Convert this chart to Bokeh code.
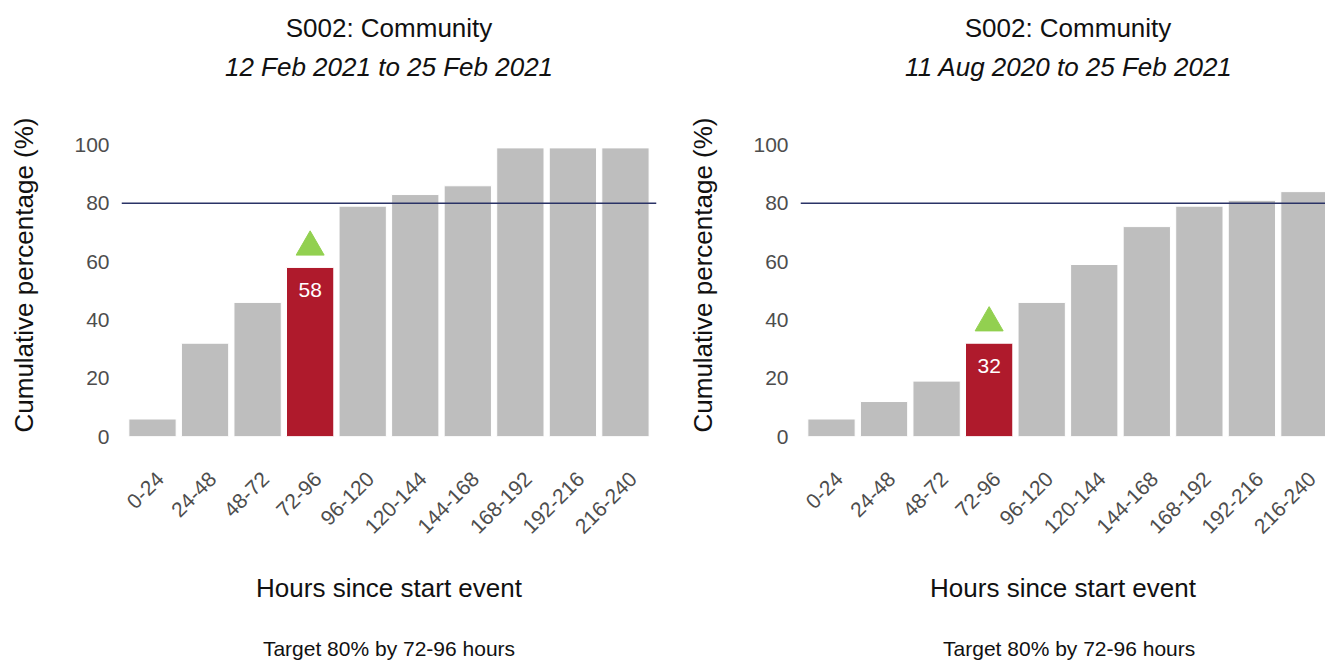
import math
from bokeh.plotting import figure
from bokeh.layouts import row
from bokeh.models import Range1d, FixedTicker, Span, Label, Title
from bokeh.embed import file_html
from bokeh.resources import INLINE

# ---------------- data ----------------
categories = ["0-24", "24-48", "48-72", "72-96", "96-120",
              "120-144", "144-168", "168-192", "192-216", "216-240"]
left_values = [6, 32, 46, 58, 79, 83, 86, 99, 99, 99]
right_values = [6, 12, 19, 32, 46, 59, 72, 79, 81, 84]
panel_title = "S002: Community"
left_subtitle = "12 Feb 2021 to 25 Feb 2021"
right_subtitle = "11 Aug 2020 to 25 Feb 2021"
y_ticks = [0, 20, 40, 60, 80, 100]
target = 80
highlight = "72-96"
x_title = "Hours since start event"
y_title = "Cumulative percentage (%)"
footer = "Target 80% by 72-96 hours"

# ---------------- style ----------------
FONT = "Liberation Sans"
GREY = "#BEBEBE"
RED = "#AF1A2C"
GREEN = "#92D050"
NAVY = "#2A3366"
TICK_COL = "#4D4D4D"
TXT = "#111111"

X_START = -0.09
UNIT_PX = 52.55
FULL_FRAME = 535
LABEL_SHIFT = 0.15   # rotated labels hang to the right of the bar centre

# Arial/Liberation advance widths (per 1000 em) used to centre texts of a
# panel whose frame is cut by the window edge
_W = {" ": 278, "(": 333, ")": 333, "%": 889, "-": 333, ":": 278}


def text_width(s, size, w=None):
    narrow = {"i": 222, "l": 222, "t": 278, "r": 333, "f": 278, "j": 222}
    total = 0
    for ch in s:
        if ch in _W:
            total += _W[ch]
        elif ch in narrow:
            total += narrow[ch]
        elif ch.isdigit():
            total += 556
        elif ch in "sckvyxz":
            total += 500
        elif ch == "m":
            total += 833
        elif ch in "ABEKPSVXY":
            total += 667
        elif ch in "CDHNRUw":
            total += 722
        elif ch in "FTZ":
            total += 611
        else:
            total += 556
    return total * size / 1000.0


def spacer(gap):
    # blank title used only to reserve vertical room
    return Title(text=" ", text_font_size="2px", standoff=gap)


def make_panel(values, subtitle, width, frame_w, border_right):
    x_end = X_START + frame_w / UNIT_PX
    p = figure(width=width, height=663, output_backend="svg", toolbar_location=None,
               x_range=Range1d(X_START, x_end), y_range=Range1d(0, 110.8),
               min_border_left=121, min_border_right=border_right,
               min_border_top=113, min_border_bottom=227)
    p.outline_line_color = None
    p.xgrid.grid_line_color = None
    p.ygrid.grid_line_color = None
    p.background_fill_color = "white"
    p.border_fill_color = "white"

    xs = [i + 0.5 for i in range(len(categories))]
    colors = [RED if c == highlight else GREY for c in categories]
    p.vbar(x=xs, top=values, width=0.9, bottom=0, fill_color=colors,
           line_color="white", line_width=1)

    p.add_layout(Span(location=target, dimension="width", line_color=NAVY,
                      line_width=1.4))

    hi = categories.index(highlight)
    hv = values[hi]
    p.scatter(x=[xs[hi]], y=[hv + 7], marker="triangle", size=28,
              fill_color=GREEN, line_color=GREEN)
    p.add_layout(Label(x=xs[hi], y=hv - 7.8, text=str(hv), text_color="white",
                       text_font=FONT, text_font_size="21px", text_align="center",
                       text_baseline="alphabetic"))

    cropped = frame_w < FULL_FRAME

    def place(title_obj, txt, size):
        if cropped:
            # centre over the full (uncut) panel width
            centre = FULL_FRAME / 2.0
            title_obj.align = "right"
            title_obj.offset = frame_w - (centre + text_width(txt, size) / 2.0)
        else:
            title_obj.align = "center"

    # titles (above: spacer next to frame, then subtitle, then main title)
    p.title.text = panel_title
    p.title.text_font = FONT
    p.title.text_font_size = "26px"
    p.title.text_font_style = "normal"
    p.title.text_color = TXT
    p.title.standoff = 7
    place(p.title, panel_title, 26)
    p.add_layout(spacer(25), "above")
    sub = Title(text=subtitle, text_font=FONT, text_font_size="26px",
                text_font_style="italic", text_color=TXT, standoff=6)
    place(sub, subtitle, 26)
    p.add_layout(sub, "above")

    # axes
    tick_pos = [x + LABEL_SHIFT for x in xs]
    p.xaxis.ticker = FixedTicker(ticks=tick_pos)
    p.xaxis.major_label_overrides = {t: c for t, c in zip(tick_pos, categories)}
    p.xaxis.major_label_orientation = math.pi / 4
    p.yaxis.ticker = FixedTicker(ticks=y_ticks)
    for ax in (p.xaxis, p.yaxis):
        ax.axis_line_color = None
        ax.major_tick_line_color = None
        ax.minor_tick_line_color = None
        ax.major_tick_in = 0
        ax.major_tick_out = 0
        ax.major_label_text_font = FONT
        ax.major_label_text_font_size = "21px"
        ax.major_label_text_color = TICK_COL
        ax.axis_label_text_font = FONT
        ax.axis_label_text_font_size = "26px"
        ax.axis_label_text_font_style = "normal"
        ax.axis_label_text_color = TXT
    p.yaxis.major_label_standoff = 12
    p.xaxis.major_label_standoff = 39
    p.xaxis.axis_label = x_title
    p.yaxis.axis_label = y_title
    p.xaxis.axis_label_standoff = 30
    p.yaxis.axis_label_standoff = 32

    # below: x axis, spacer, footer note
    p.add_layout(spacer(25), "below")
    foot = Title(text=footer, text_font=FONT, text_font_size="21px",
                 text_font_style="normal", text_color=TXT, standoff=0)
    place(foot, footer, 21)
    p.add_layout(foot, "below")
    return p


p1 = make_panel(left_values, left_subtitle, 679, 535, 23)
p2 = make_panel(right_values, right_subtitle, 646, 525, 0)

layout = row(p1, p2)
open("out.html", "w").write(file_html(layout, INLINE))
